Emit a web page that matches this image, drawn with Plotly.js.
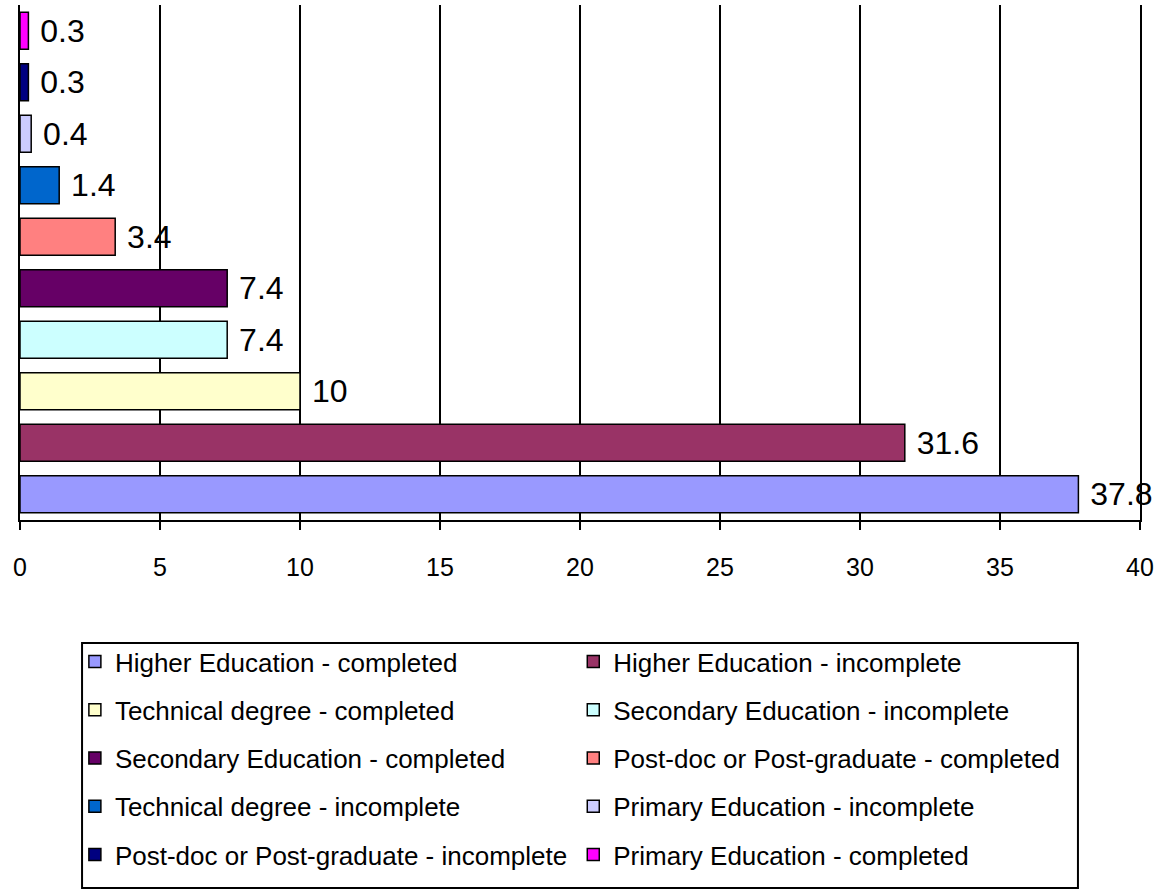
<!DOCTYPE html>
<html>
<head>
<meta charset="utf-8">
<script src="https://cdn.plot.ly/plotly-3.0.1.min.js"></script>
<style>html,body{margin:0;padding:0;background:#fff;}#chart{width:1162px;height:893px;}</style>
</head>
<body>
<div id="chart"></div>
<script>
// Categories from bottom to top
var categories = [
  "Higher Education - completed",
  "Higher Education - incomplete",
  "Technical degree - completed",
  "Secondary Education - incomplete",
  "Secondary Education - completed",
  "Post-doc or Post-graduate - completed",
  "Technical degree - incomplete",
  "Primary Education - incomplete",
  "Post-doc or Post-graduate - incomplete",
  "Primary Education - completed"
];
var values = [37.8, 31.6, 10, 7.4, 7.4, 3.4, 1.4, 0.4, 0.3, 0.3];
var valueLabels = ["37.8", "31.6", "10", "7.4", "7.4", "3.4", "1.4", "0.4", "0.3", "0.3"];
var colors = ["#9999ff", "#993366", "#ffffcc", "#ccffff", "#660066", "#ff8080", "#0066cc", "#ccccff", "#000080", "#ff00ff"];
var xTicks = [0, 5, 10, 15, 20, 25, 30, 35, 40];

var FONT = "Liberation Sans, Arial, sans-serif";
var traces = categories.map(function (name, i) {
  return {
    type: "bar",
    orientation: "h",
    name: name,
    x: [values[i]],
    y: [name],
    text: [" " + valueLabels[i]],
    textposition: "outside",
    cliponaxis: false,
    constraintext: "none",
    textfont: {family: FONT, size: 32, color: "#000"},
    width: 0.72,
    marker: {color: colors[i], line: {color: "#000", width: 1.5}},
    legend: (i % 2 === 0) ? "legend" : "legend2",
    legendgroup: "g" + i,
    hoverinfo: "x+name"
  };
});

var legendCommon = {
  orientation: "v",
  yanchor: "top",
  xanchor: "left",
  bgcolor: "rgba(0,0,0,0)",
  borderwidth: 0,
  tracegroupgap: 11.5,
  font: {family: FONT, size: 26, color: "#000"}
};

var layout = {
  width: 1162,
  height: 893,
  margin: {l: 20, r: 22, t: 5, b: 373},
  paper_bgcolor: "#fff",
  plot_bgcolor: "#fff",
  barmode: "overlay",
  showlegend: true,
  xaxis: {
    range: [0, 40],
    tickvals: xTicks,
    ticktext: xTicks.map(String),
    showgrid: true,
    gridcolor: "#000",
    gridwidth: 2,
    zeroline: false,
    showline: true,
    linecolor: "#000",
    linewidth: 2,
    ticks: "outside",
    ticklen: 8,
    tickwidth: 2,
    tickcolor: "#000",
    ticklabelstandoff: 16,
    tickfont: {family: FONT, size: 25, color: "#000"},
    fixedrange: true
  },
  yaxis: {
    type: "category",
    categoryorder: "array",
    categoryarray: categories,
    showticklabels: false,
    showgrid: false,
    zeroline: false,
    showline: true,
    mirror: true,
    linecolor: "#000",
    linewidth: 2,
    ticks: "",
    fixedrange: true
  },
  legend: Object.assign({}, legendCommon, {x: 0.049, y: -0.2291}),
  legend2: Object.assign({}, legendCommon, {x: 0.494, y: -0.2291}),
  shapes: [{
    type: "rect",
    xref: "paper", yref: "paper",
    x0: 0.0554, x1: 0.9446, y0: -0.7146, y1: -0.2388,
    line: {color: "#000", width: 2},
    fillcolor: "rgba(0,0,0,0)"
  }]
};

Plotly.newPlot("chart", traces, layout, {displayModeBar: false, staticPlot: true});
</script>
</body>
</html>
